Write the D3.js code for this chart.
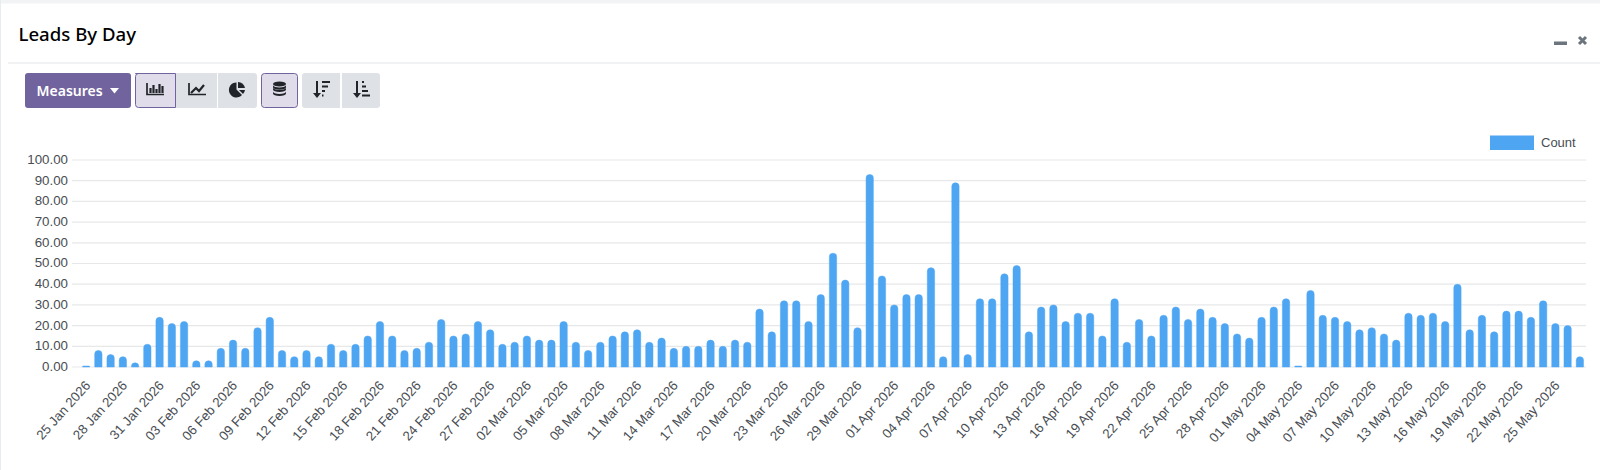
<!DOCTYPE html>
<meta charset="utf-8">
<style>
body { margin: 0; background: #fff; }
svg { display: block; }
.grid line { stroke: #e7e8ea; stroke-width: 1.2; }
.axis text { font-family: "Liberation Sans", Arial, sans-serif; font-size: 13.3px; fill: #484d53; }
.axis path, .axis line { display: none; }
.bar { fill: #4ea6f3; }
.bar-mark { stroke: #4ea6f3; stroke-opacity: 0.45; stroke-width: 1; }
.btn { fill: #dee2e6; }
.btn-on { fill: #e0dcea; stroke: #71639e; stroke-width: 1; }
.ico { fill: #212529; stroke: none; }
.ico-line { fill: none; stroke: #212529; stroke-width: 1.7; }
</style>
<svg width="1600" height="470"></svg>
<script src="https://d3js.org/d3.v7.min.js"></script>
<script>

var categories = [
  "25 Jan 2026","26 Jan 2026","27 Jan 2026","28 Jan 2026","29 Jan 2026","30 Jan 2026","31 Jan 2026",
  "01 Feb 2026","02 Feb 2026","03 Feb 2026","04 Feb 2026","05 Feb 2026","06 Feb 2026","07 Feb 2026",
  "08 Feb 2026","09 Feb 2026","10 Feb 2026","11 Feb 2026","12 Feb 2026","13 Feb 2026","14 Feb 2026",
  "15 Feb 2026","16 Feb 2026","17 Feb 2026","18 Feb 2026","19 Feb 2026","20 Feb 2026","21 Feb 2026",
  "22 Feb 2026","23 Feb 2026","24 Feb 2026","25 Feb 2026","26 Feb 2026","27 Feb 2026","28 Feb 2026",
  "01 Mar 2026","02 Mar 2026","03 Mar 2026","04 Mar 2026","05 Mar 2026","06 Mar 2026","07 Mar 2026",
  "08 Mar 2026","09 Mar 2026","10 Mar 2026","11 Mar 2026","12 Mar 2026","13 Mar 2026","14 Mar 2026",
  "15 Mar 2026","16 Mar 2026","17 Mar 2026","18 Mar 2026","19 Mar 2026","20 Mar 2026","21 Mar 2026",
  "22 Mar 2026","23 Mar 2026","24 Mar 2026","25 Mar 2026","26 Mar 2026","27 Mar 2026","28 Mar 2026",
  "29 Mar 2026","30 Mar 2026","31 Mar 2026","01 Apr 2026","02 Apr 2026","03 Apr 2026","04 Apr 2026",
  "05 Apr 2026","06 Apr 2026","07 Apr 2026","08 Apr 2026","09 Apr 2026","10 Apr 2026","11 Apr 2026",
  "12 Apr 2026","13 Apr 2026","14 Apr 2026","15 Apr 2026","16 Apr 2026","17 Apr 2026","18 Apr 2026",
  "19 Apr 2026","20 Apr 2026","21 Apr 2026","22 Apr 2026","23 Apr 2026","24 Apr 2026","25 Apr 2026",
  "26 Apr 2026","27 Apr 2026","28 Apr 2026","29 Apr 2026","30 Apr 2026","01 May 2026","02 May 2026",
  "03 May 2026","04 May 2026","05 May 2026","06 May 2026","07 May 2026","08 May 2026","09 May 2026",
  "10 May 2026","11 May 2026","12 May 2026","13 May 2026","14 May 2026","15 May 2026","16 May 2026",
  "17 May 2026","18 May 2026","19 May 2026","20 May 2026","21 May 2026","22 May 2026","23 May 2026",
  "24 May 2026","25 May 2026","26 May 2026","27 May 2026"
];

var counts = [
  0.5,8,6,5,2,11,24,21,22,3,3,9,13,9,19,24,8,5,8,5,11,8,11,15,22,15,
  8,9,12,23,15,16,22,18,11,12,15,13,13,22,12,8,12,15,17,18,12,14,9,10,10,
  13,10,13,12,28,17,32,32,22,35,55,42,19,93,44,30,35,35,48,5,89,6,33,33,45,
  49,17,29,30,22,26,26,15,33,12,23,15,25,29,23,28,24,21,16,14,24,29,33,0.5,37,
  25,24,22,18,19,16,13,26,25,26,22,40,18,25,17,27,27,24,32,21,20,5
];

var yTicks = [0,10,20,30,40,50,60,70,80,90,100];
var xTickLabels = categories.filter(function(d, i) { return i % 3 === 0; });
var seriesName = "Count";

var svg = d3.select("svg");

// page edges around the card
svg.append("rect").attr("width", 1600).attr("height", 3.5).attr("fill", "#f1f3f5");
svg.append("rect").attr("width", 1).attr("height", 470).attr("fill", "#e9ecef");

// header
svg.append("text").attr("x", 18.5).attr("y", 41)
    .style("font-family", "'Noto Sans'").style("font-size", "18.6px").style("font-weight", 500)
    .attr("fill", "#000").text("Leads By Day");
svg.append("line").attr("x1", 8).attr("x2", 1600).attr("y1", 63).attr("y2", 63).attr("stroke", "#e2e4e7");

svg.append("rect").attr("x", 1554).attr("y", 41.5).attr("width", 13).attr("height", 3.5).attr("fill", "#6c757d");
svg.append("path").attr("d", "M1579 37 L1586 44 M1586 37 L1579 44")
    .attr("stroke", "#6c757d").attr("stroke-width", 3);

// toolbar
svg.append("rect").attr("x", 25).attr("y", 73).attr("width", 106).attr("height", 35).attr("rx", 3).attr("fill", "#71639e");
svg.append("text").attr("x", 36.5).attr("y", 96)
    .style("font-family", "'Noto Sans'").style("font-size", "14px").style("font-weight", 600)
    .attr("fill", "#fff").text("Measures");
svg.append("path").attr("d", "M110 88 L119 88 L114.5 93.5 Z").attr("fill", "#fff");

svg.append("rect").attr("class", "btn").attr("x", 176).attr("y", 73).attr("width", 41).attr("height", 35);
svg.append("path").attr("class", "btn").attr("d", "M218 73 H254 a3 3 0 0 1 3 3 V105 a3 3 0 0 1 -3 3 H218 Z");
svg.append("path").attr("class", "btn-on").attr("d", "M135.5 73.5 H175.5 V107.5 H138.5 a3 3 0 0 1 -3 -3 V76.5 a3 3 0 0 1 3 -3 Z");
svg.append("rect").attr("class", "btn-on").attr("x", 261.5).attr("y", 73.5).attr("width", 36).attr("height", 34).attr("rx", 3);
svg.append("path").attr("class", "btn").attr("d", "M305 73 H340 V108 H305 a3 3 0 0 1 -3 -3 V76 a3 3 0 0 1 3 -3 Z");
svg.append("path").attr("class", "btn").attr("d", "M342 73 H377 a3 3 0 0 1 3 3 V105 a3 3 0 0 1 -3 3 H342 Z");

// bar icon
svg.append("path").attr("class", "ico-line").attr("d", "M147 83 V94.5 H164");
svg.append("path").attr("class", "ico-line").style("stroke-width", 2.2)
    .attr("d", "M150.5 93 V88 M153.5 93 V85 M156.5 93 V89 M159.5 93 V84 M162.5 93 V86");
// line icon
svg.append("path").attr("class", "ico-line").attr("d", "M189 83 V94.5 H206");
svg.append("path").attr("class", "ico-line").style("stroke-width", 2.2).attr("d", "M191 93 L196 88 L199 91 L204 85");
// pie icon
svg.append("path").attr("class", "ico").attr("d", "M236.5 82.5 A7.5 7.5 0 1 0 242 95 L236.5 89.5 Z");
svg.append("path").attr("class", "ico").attr("d", "M238 82 A7 7 0 0 1 245 88 H238 Z");
svg.append("path").attr("class", "ico").attr("d", "M245 90 A7 7 0 0 1 243 94 L239 90 Z");
// database icon
svg.append("ellipse").attr("class", "ico").attr("cx", 279.5).attr("cy", 84).attr("rx", 6.5).attr("ry", 2.6);
[87.5, 91.5].forEach(function(t) {
  svg.append("path").attr("class", "ico")
      .attr("d", "M273 " + t + " a6.5 2.4 0 0 0 13 0 V" + (t + 2) + " a6.5 2.4 0 0 1 -13 0 Z");
});
svg.append("path").attr("class", "ico").attr("d", "M273 85 a6.5 2.4 0 0 0 13 0 V87.3 a6.5 2.4 0 0 1 -13 0 Z");
// sort icons
svg.append("path").attr("class", "ico-line").style("stroke-width", 2).attr("d", "M317 81 V95");
svg.append("path").attr("class", "ico").attr("d", "M313 93 H321 L317 98 Z");
svg.append("path").attr("class", "ico-line").style("stroke-width", 2).attr("d", "M322 82 H330 M322 86.5 H328 M322 91 H325 M322 95.5 H323.5");
svg.append("path").attr("class", "ico-line").style("stroke-width", 2).attr("d", "M357 81 V95");
svg.append("path").attr("class", "ico").attr("d", "M353 93 H361 L357 98 Z");
svg.append("path").attr("class", "ico-line").style("stroke-width", 2).attr("d", "M362 82 H364 M362 86.5 H366 M362 91 H368 M362 95.5 H370");

// chart
var x = d3.scaleBand().domain(categories).range([80, 1586]).paddingInner(0.4).paddingOuter(0.2),
    y = d3.scaleLinear().domain([0, 100]).range([367, 160]);

svg.append("g").attr("class", "grid")
  .selectAll("line").data(yTicks)
  .enter().append("line")
    .attr("x1", 72).attr("x2", 1586)
    .attr("y1", function(d) { return y(d); })
    .attr("y2", function(d) { return y(d); });

svg.append("g").attr("class", "axis axis--y")
    .attr("transform", "translate(72,-0.8)")
    .call(d3.axisLeft(y).tickValues(yTicks).tickSize(0).tickPadding(4).tickFormat(d3.format(".2f")));

svg.append("g").attr("class", "axis axis--x")
    .attr("transform", "translate(0,367)")
    .call(d3.axisBottom(x).tickValues(xTickLabels).tickSize(0))
  .selectAll("text")
    .attr("text-anchor", "end")
    .attr("dy", 0)
    .attr("y", 0)
    .attr("transform", "translate(5,19) rotate(-48)");

// rounded top only
function barPath(d, i) {
  var x0 = x(categories[i]), w = x.bandwidth(), y0 = y(d), b = y(0),
      r = Math.min(3.5, w / 2, b - y0);
  return "M" + x0 + "," + b + "V" + (y0 + r) + "Q" + x0 + "," + y0 + " " + (x0 + r) + "," + y0 +
         "H" + (x0 + w - r) + "Q" + (x0 + w) + "," + y0 + " " + (x0 + w) + "," + (y0 + r) + "V" + b + "Z";
}

svg.selectAll(".bar-mark").data(counts)
  .enter().append("path")
    .attr("class", "bar bar-mark")
    .attr("d", barPath);

// legend
svg.append("rect").attr("class", "bar").attr("x", 1490).attr("y", 135.5).attr("width", 44).attr("height", 14.5);
svg.append("text").attr("x", 1541).attr("y", 147)
    .style("font-family", "'Liberation Sans'").style("font-size", "13px")
    .attr("fill", "#484d53").text(seriesName);

</script>
